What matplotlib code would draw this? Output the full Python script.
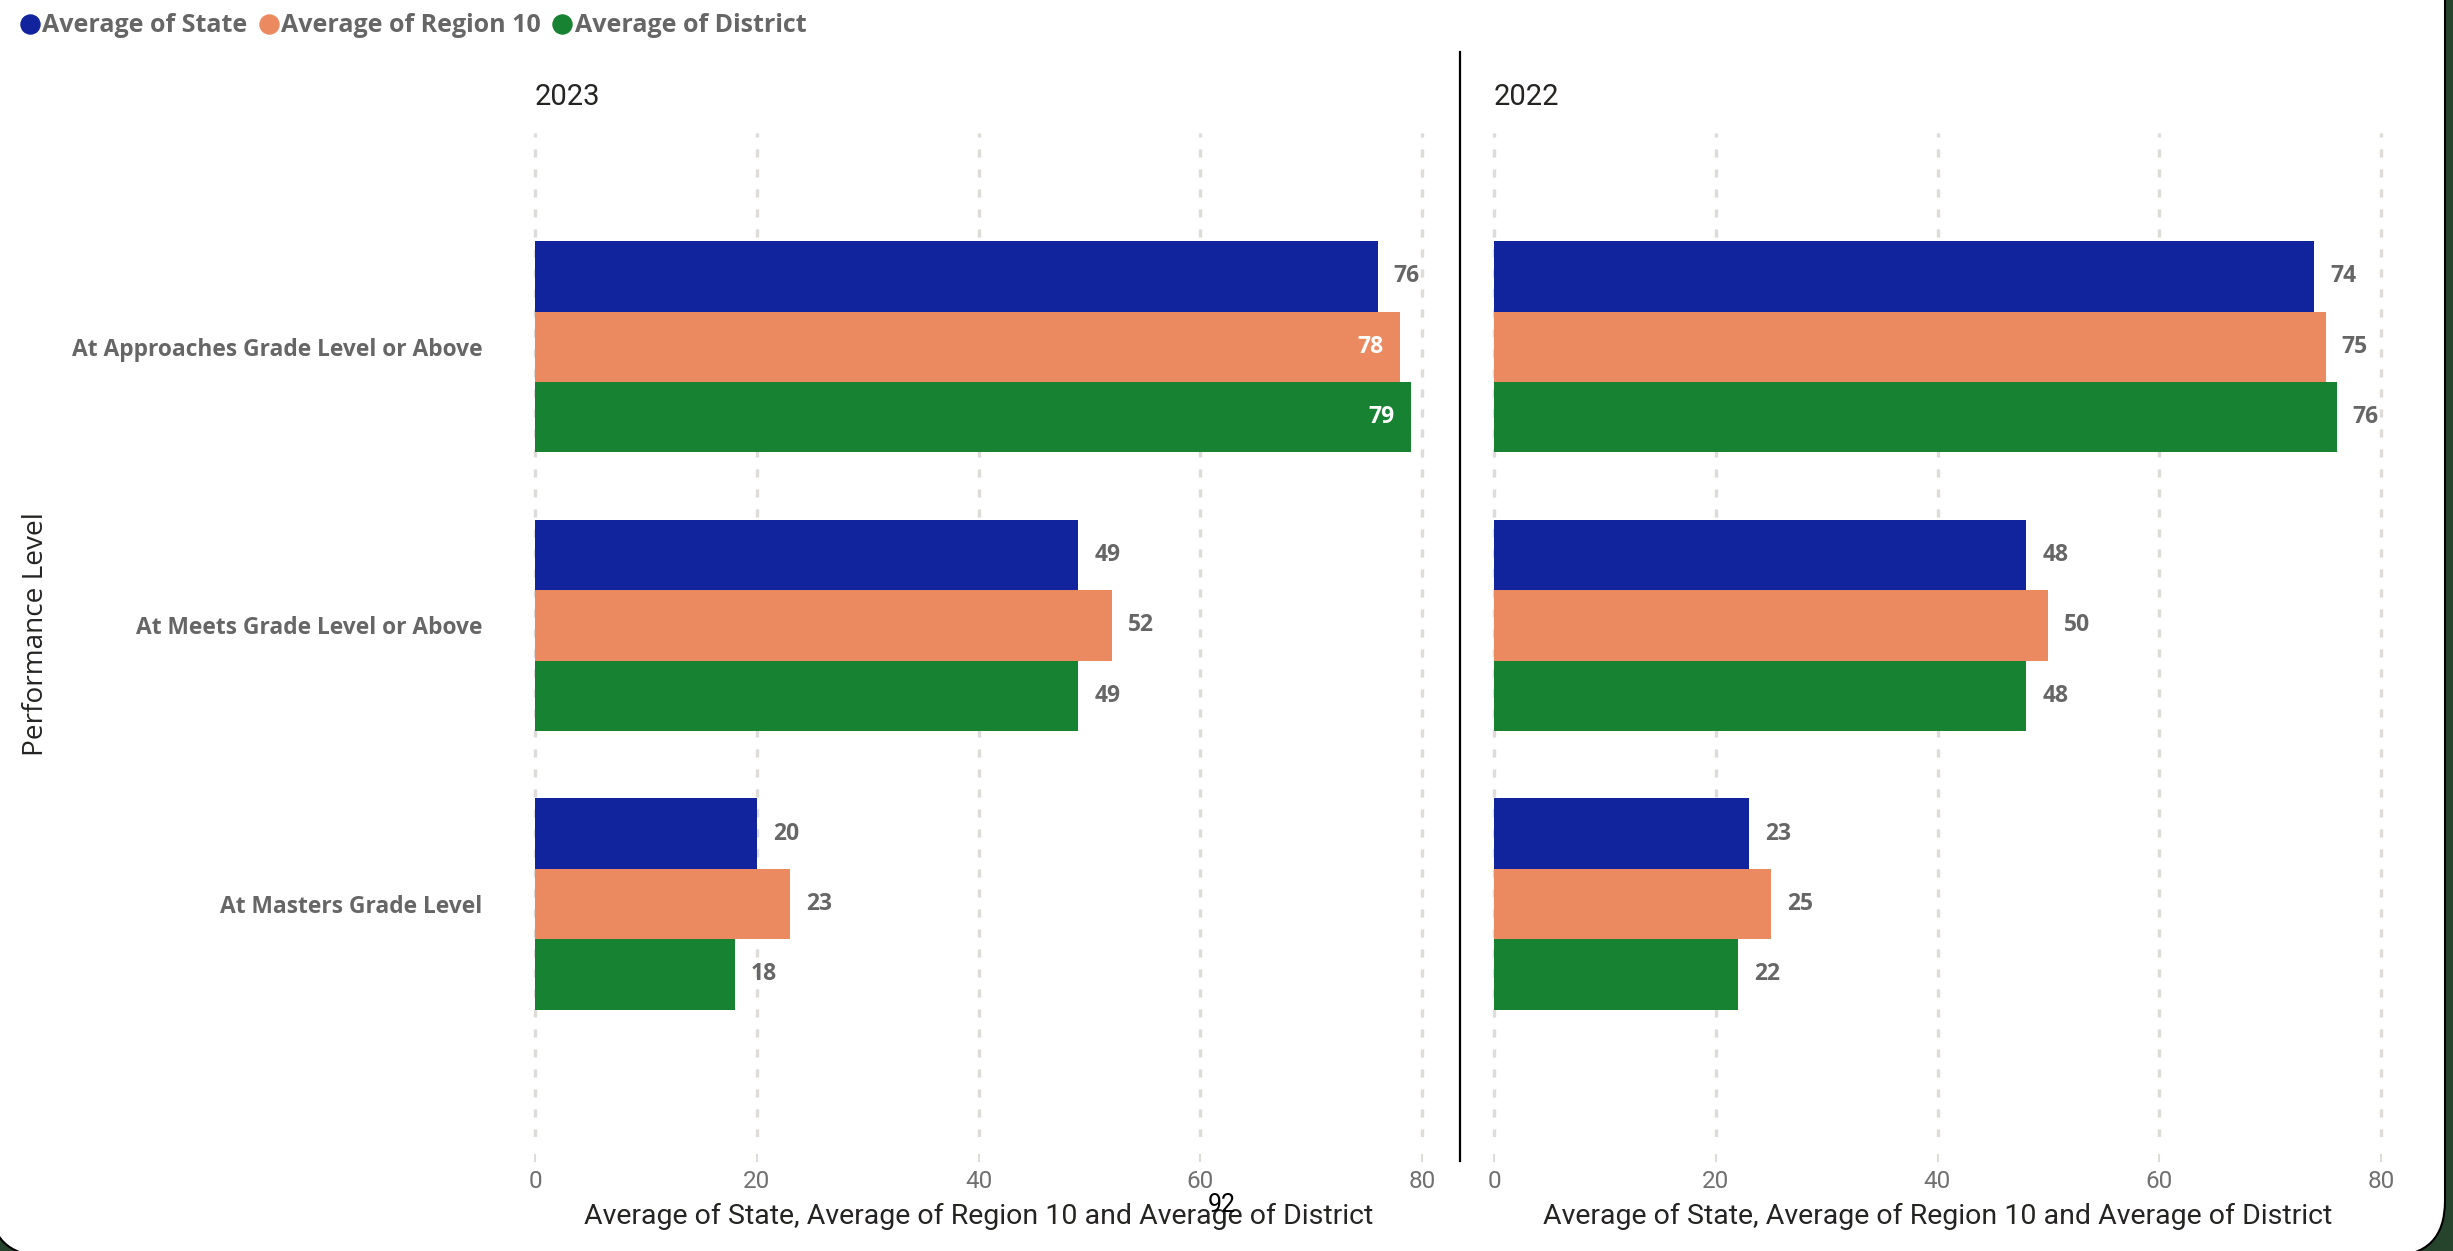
import numpy as np
import matplotlib.pyplot as plt
from matplotlib.lines import Line2D
from matplotlib.patches import FancyBboxPatch
from matplotlib.transforms import IdentityTransform, blended_transform_factory

plt.rcParams['lines.scale_dashes'] = False

levels = ["At Approaches Grade Level or Above",
          "At Meets Grade Level or Above",
          "At Masters Grade Level"]
series = ["Average of State", "Average of Region 10", "Average of District"]
colors = ["#12239E", "#EB8A60", "#178232"]
years = ["2023", "2022"]

state_2023 = [76, 49, 20]
region_2023 = [78, 52, 23]
district_2023 = [79, 49, 18]
state_2022 = [74, 48, 23]
region_2022 = [75, 50, 25]
district_2022 = [76, 48, 22]

xticks = [0, 20, 40, 60, 80]
xtitle = "Average of State, Average of Region 10 and Average of District"

BOLD = ['Open Sans', 'DejaVu Sans']
NARROW = ['Roboto', 'DejaVu Sans']
GREY = '#666666'

W, H = 2453, 1251
fig = plt.figure(figsize=(W / 100, H / 100), dpi=100, facecolor='#26432C')

# white report page with a rounded corner, dark frame behind it
page = FancyBboxPatch((-10, -5), 2455, 1320,
                      boxstyle='round,pad=0,rounding_size=55',
                      fc='white', ec='black', lw=1.5,
                      transform=IdentityTransform(), zorder=-10)
fig.add_artist(page)

panels = [
    (years[0], [state_2023, region_2023, district_2023], 529.5),
    (years[1], [state_2022, region_2022, district_2022], 1488.5),
]

bar_h = 0.2528
y = np.arange(len(levels))

for i, (year, data, left_px) in enumerate(panels):
    ax = fig.add_axes([left_px / W, 0.0911, 898 / W, 0.8026])
    ax.set_facecolor('none')
    for k, vals in enumerate(data):
        ys = y + (k - 1) * bar_h
        ax.barh(ys, vals, height=bar_h, color=colors[k], zorder=2)
        for yy, v in zip(ys, vals):
            if v + 4 > xticks[-1]:
                ax.annotate(str(v), (v, yy), xytext=(-11.5, 0),
                            textcoords='offset points', ha='right', va='center',
                            color='white', fontsize=16.5, fontweight='bold',
                            family=BOLD, zorder=3)
            else:
                ax.annotate(str(v), (v, yy), xytext=(11.5, 0),
                            textcoords='offset points', ha='left', va='center',
                            color=GREY, fontsize=16.5, fontweight='bold',
                            family=BOLD, zorder=3)

    ax.set_xlim(-0.5, 80.5)
    ax.set_ylim(2.837, -0.768)
    for s in ax.spines.values():
        s.set_visible(False)

    ax.set_xticks(xticks)
    ax.grid(axis='x', color='#DEDBD8', lw=2.4, linestyle=(0, (5.8, 8.6)), zorder=0)
    ax.tick_params(axis='x', length=0, pad=24, labelsize=17.5, labelcolor='#707070')
    for lab in ax.get_xticklabels():
        lab.set_family(NARROW)
    # short stubs under the grid
    for t in xticks:
        ax.axvline(t, ymin=-0.024, ymax=-0.018, color='#DEDBD8', lw=1.5, clip_on=False)

    ax.set_yticks(y)
    if i == 0:
        ax.set_yticklabels(levels, fontsize=16.4, fontweight='bold', color=GREY,
                           family=BOLD)
        ax.tick_params(axis='y', length=0, pad=34)
    else:
        ax.set_yticklabels([])
        ax.tick_params(axis='y', length=0)

    ax.set_xlabel(xtitle, fontsize=20.5, color='#252423', family=NARROW)
    ax.xaxis.set_label_coords(0.5, -0.0657)

    tr = blended_transform_factory(ax.transData, ax.transAxes)
    ax.text(0, 1.036, year, transform=tr, ha='left', va='center',
            fontsize=21, color='#252423', family=NARROW)

# divider between the two years
fig.add_artist(Line2D([1460 / W] * 2, [1 - 52 / H, 1 - 1161 / H],
                      color='black', lw=1.6))

fig.text(36 / W, 1 - 634 / H, "Performance Level", rotation=90,
         ha='center', va='center', fontsize=20.2, color='#252423',
         family=['Open Sans', 'DejaVu Sans'])

fig.text(1222 / W, 1 - 1205 / H, "92", ha='center', va='center',
         fontsize=18, color='black', family=NARROW)

handles = [Line2D([], [], marker='o', ls='none', markersize=13.7,
                  markerfacecolor=c, markeredgecolor=c) for c in colors]
leg = fig.legend(handles, series, loc='center left',
                 bbox_to_anchor=(16 / W, 1 - 26 / H),
                 ncol=3, frameon=False, handlelength=0.7, handletextpad=0.15,
                 columnspacing=0.5, borderaxespad=0, borderpad=0.2,
                 prop={'family': BOLD, 'weight': 'bold', 'size': 18})
for t in leg.get_texts():
    t.set_color(GREY)

fig.savefig('out.png', dpi=100, facecolor=fig.get_facecolor())
